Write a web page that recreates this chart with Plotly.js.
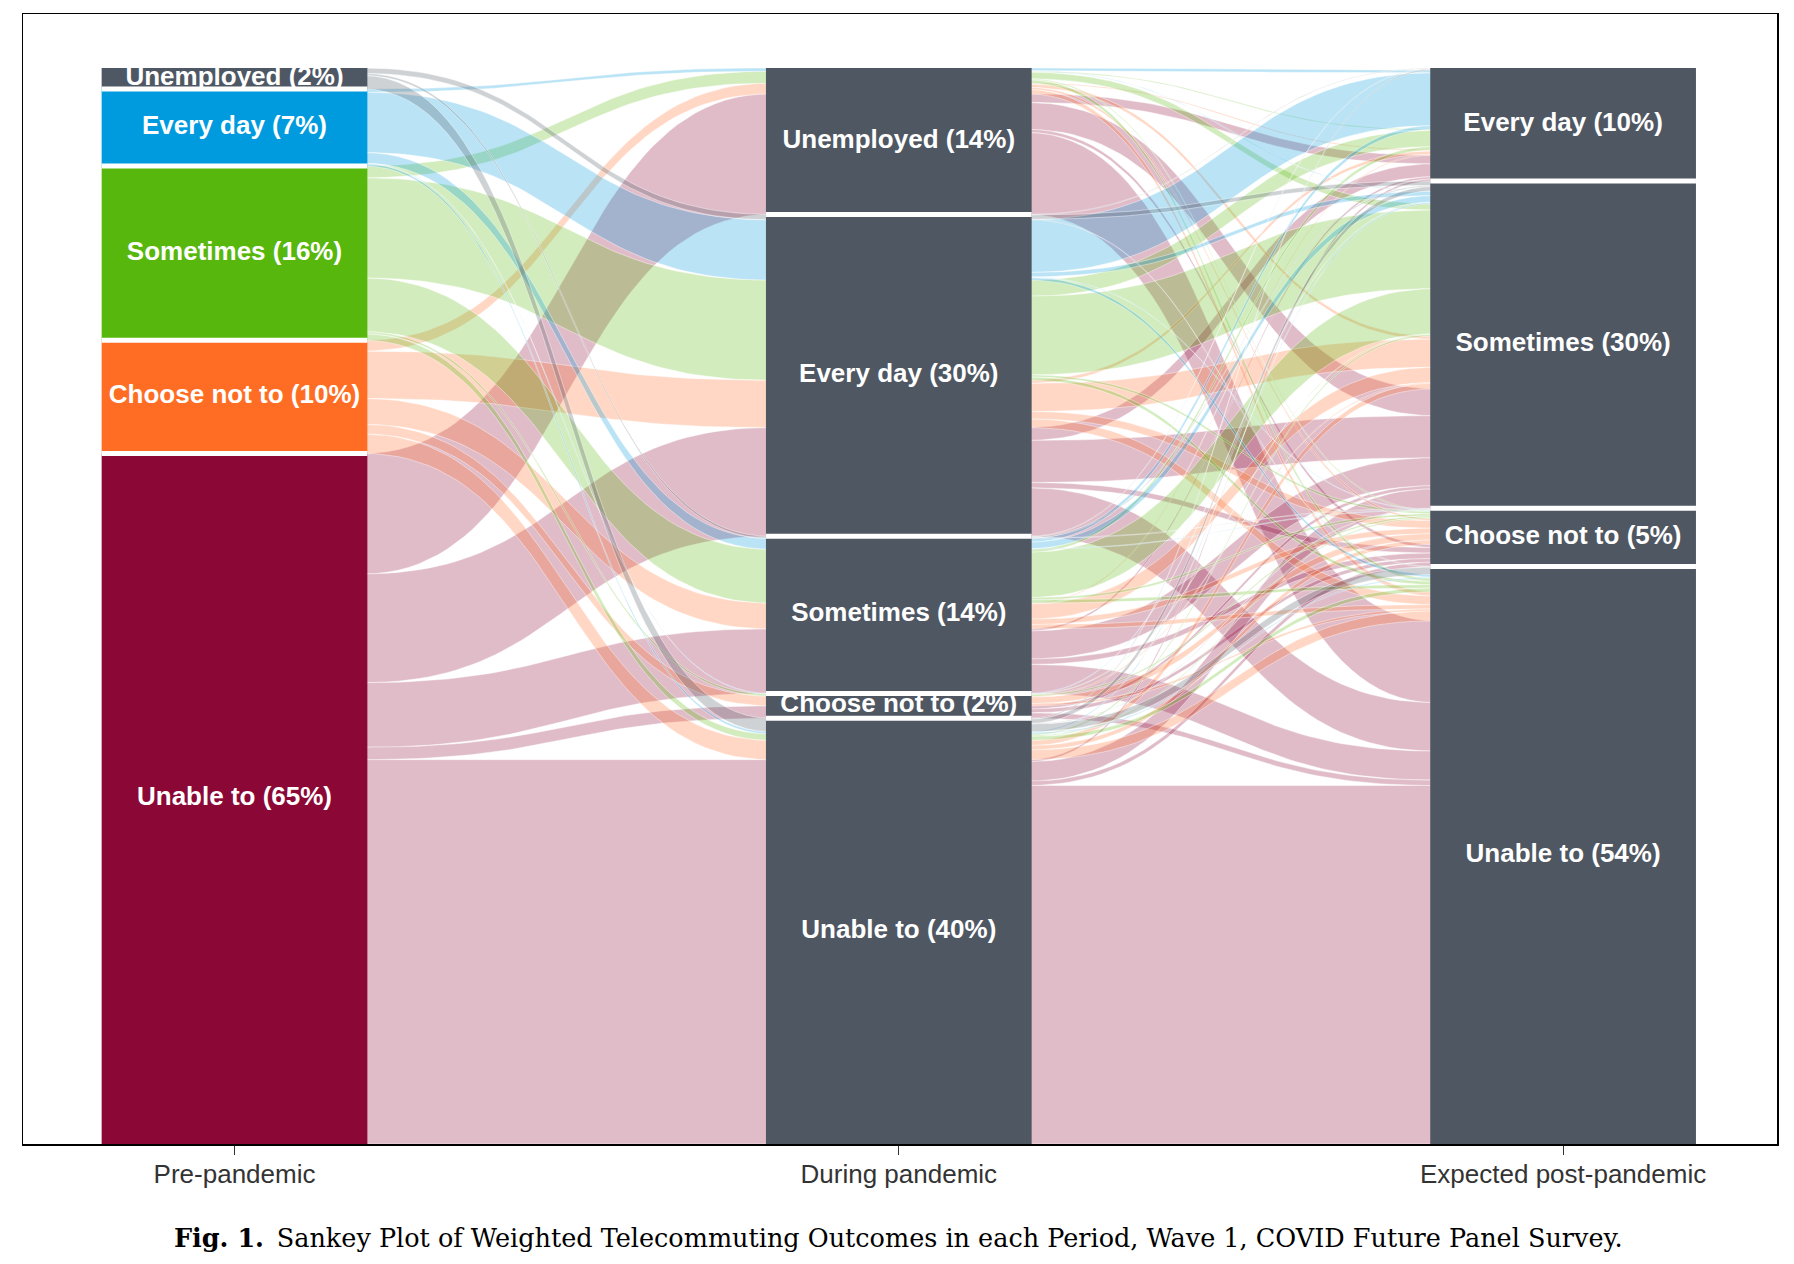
<!DOCTYPE html>
<html>
<head>
<meta charset="utf-8">
<script src="https://cdn.plot.ly/plotly-3.0.1.min.js"></script>
<style>html,body{margin:0;padding:0;background:#fff}#chart{width:1794px;height:1264px}</style>
</head>
<body>
<div id="chart"></div>
<script>
// ---------------- DATA ----------------
const axisNames = ["Pre-pandemic", "During pandemic", "Expected post-pandemic"];
const preCategories = ["Unemployed", "Every day", "Sometimes", "Choose not to", "Unable to"];
const duringCategories = ["Unemployed", "Every day", "Sometimes", "Choose not to", "Unable to"];
const postCategories = ["Every day", "Sometimes", "Choose not to", "Unable to"];
const preLabels = ["Unemployed (2%)", "Every day (7%)", "Sometimes (16%)", "Choose not to (10%)", "Unable to (65%)"];
const duringLabels = ["Unemployed (14%)", "Every day (30%)", "Sometimes (14%)", "Choose not to (2%)", "Unable to (40%)"];
const postLabels = ["Every day (10%)", "Sometimes (30%)", "Choose not to (5%)", "Unable to (54%)"];

// Weighted share of respondents (%), for each pre-pandemic group:
// rows = during-pandemic category, columns = expected post-pandemic category
const fromUnemployed = [
  [0,    0,    0,    0],
  [0.05, 0.4,  0,    0.05],
  [0.05, 0.1,  0.05, 0],
  [0,    0,    0,    0],
  [0.1,  0.4,  0.05, 0.7]
];
const fromEveryDay = [
  [0.25, 0.05, 0,    0],
  [4.9,  0.4,  0.05, 0.25],
  [0.35, 0.6,  0.05, 0],
  [0,    0.05, 0,    0],
  [0,    0.1,  0,    0.1]
];
const fromSometimes = [
  [0.1,  0.6,  0.1,  0.3],
  [1.5,  7.3,  0.2,  0.3],
  [0.3,  4.2,  0.2,  0.3],
  [0,    0.05, 0.15, 0],
  [0,    0.15, 0.1,  0.35]
];
const fromChooseNot = [
  [0.1,  0.3,  0.2,  0.4],
  [0.3,  2.6,  0.7,  0.8],
  [0.1,  1.4,  0.5,  0.4],
  [0,    0.1,  0.6,  0.2],
  [0,    0.5,  0.4,  0.9]
];
const fromUnable = [
  [0.8,  2.5,  0.3,  7.6],
  [1.2,  3.9,  0.5,  4.5],
  [0.2,  2.6,  0.5,  2.7],
  [0,    0.3,  0.35, 0.5],
  [0.2,  1.8,  0.4,  33.3]
];

const preColors = ["#4E5764", "#009BDE", "#58B70C", "#FF6D24", "#8B0836"];
const laterStratumColor = "#4F5763";

// ---------------- BUILD ----------------
const preMatrices = [fromUnemployed, fromEveryDay, fromSometimes, fromChooseNot, fromUnable];
const alluvia = [];
preMatrices.forEach((m, p) => m.forEach((row, d) => row.forEach((w, q) => {
  if (w > 0) alluvia.push({p, d, q, w});
})));
const T = alluvia.reduce((s, a) => s + a.w, 0);

function stack(keyFn, field) {
  const sorted = alluvia.slice().sort((a, b) => {
    const ka = keyFn(a), kb = keyFn(b);
    for (let i = 0; i < ka.length; i++) if (ka[i] !== kb[i]) return ka[i] - kb[i];
    return 0;
  });
  let cum = 0;
  sorted.forEach(a => { a[field] = [T - cum, T - cum - a.w]; cum += a.w; });
}
stack(a => [a.p, a.d, a.q], "y1");
stack(a => [a.d, a.p, a.q], "y2");
stack(a => [a.q, a.p, a.d], "y3");

const HW = 0.2; // half stratum width in axis units
const axisX = [1, 2, 3];

function hexToRgba(hex, a) {
  const n = parseInt(hex.slice(1), 16);
  return `rgba(${(n >> 16) & 255},${(n >> 8) & 255},${n & 255},${a})`;
}

function flowTrace(xa, xb, ta, ba, tb, bb, color) {
  const n = 50, xs = [], ys = [];
  const xm = (xa + xb) / 2;
  const bx = t => (1 - t) ** 3 * xa + 3 * (1 - t) ** 2 * t * xm + 3 * (1 - t) * t * t * xm + t ** 3 * xb;
  const sm = t => t * t * (3 - 2 * t);
  for (let i = 0; i <= n; i++) { const t = i / n; xs.push(bx(t)); ys.push(ta + (tb - ta) * sm(t)); }
  for (let i = n; i >= 0; i--) { const t = i / n; xs.push(bx(t)); ys.push(ba + (bb - ba) * sm(t)); }
  xs.push(xs[0]); ys.push(ys[0]);
  return {
    type: "scatter", mode: "lines", x: xs, y: ys, fill: "toself",
    fillcolor: hexToRgba(color, 0.27),
    line: {color: "rgba(255,255,255,0.7)", width: 0.6},
    hoverinfo: "skip", showlegend: false
  };
}

const traces = [];
const ext = 0.006;

// Segment 1: pre -> during, aggregated by (pre, during)
for (let p = preCategories.length - 1; p >= 0; p--) {
  for (let d = 0; d < duringCategories.length; d++) {
    const grp = alluvia.filter(a => a.p === p && a.d === d);
    if (!grp.length) continue;
    const ta = Math.max(...grp.map(a => a.y1[0])), ba = Math.min(...grp.map(a => a.y1[1]));
    const tb = Math.max(...grp.map(a => a.y2[0])), bb = Math.min(...grp.map(a => a.y2[1]));
    traces.push(flowTrace(axisX[0] + HW - ext, axisX[1] - HW + ext, ta, ba, tb, bb, preColors[p]));
  }
}
// Segment 2: during -> post, one flow per alluvium, coloured by pre group
for (let p = preCategories.length - 1; p >= 0; p--) {
  alluvia.filter(a => a.p === p).forEach(a => {
    traces.push(flowTrace(axisX[1] + HW - ext, axisX[2] - HW + ext, a.y2[0], a.y2[1], a.y3[0], a.y3[1], preColors[p]));
  });
}

// Strata
function strataFor(field, keyName, n) {
  const out = [];
  for (let s = 0; s < n; s++) {
    const grp = alluvia.filter(a => a[keyName] === s);
    if (!grp.length) { out.push(null); continue; }
    out.push([Math.max(...grp.map(a => a[field][0])), Math.min(...grp.map(a => a[field][1]))]);
  }
  return out;
}
const strata = [
  {x: axisX[0], ext: strataFor("y1", "p", preCategories.length), labels: preLabels, colors: preColors},
  {x: axisX[1], ext: strataFor("y2", "d", duringCategories.length), labels: duringLabels, colors: null},
  {x: axisX[2], ext: strataFor("y3", "q", postCategories.length), labels: postLabels, colors: null}
];

const sepX = [], sepY = [];
const labX = [], labY = [], labT = [];
strata.forEach(ax => {
  ax.ext.forEach((e, s) => {
    if (!e) return;
    const col = ax.colors ? ax.colors[s] : laterStratumColor;
    traces.push({
      type: "scatter", mode: "lines",
      x: [ax.x - HW, ax.x + HW, ax.x + HW, ax.x - HW, ax.x - HW],
      y: [e[0], e[0], e[1], e[1], e[0]],
      fill: "toself", fillcolor: col, line: {width: 0, color: col},
      hoverinfo: "skip", showlegend: false
    });
    if (s > 0) { sepX.push(ax.x - HW, ax.x + HW, null); sepY.push(e[0], e[0], null); }
    labX.push(ax.x); labY.push((e[0] + e[1]) / 2); labT.push("<b>" + ax.labels[s] + "</b>");
  });
});
traces.push({
  type: "scatter", mode: "lines", x: sepX, y: sepY,
  line: {color: "#ffffff", width: 5}, hoverinfo: "skip", showlegend: false
});
traces.push({
  type: "scatter", mode: "text", x: labX, y: labY, text: labT,
  textposition: "middle center",
  textfont: {family: "Liberation Sans, Arial, sans-serif", size: 26, color: "#ffffff"},
  hoverinfo: "skip", showlegend: false
});

const layout = {
  width: 1794, height: 1264,
  margin: {l: 23, r: 17, t: 14, b: 120, pad: 0},
  paper_bgcolor: "#ffffff", plot_bgcolor: "#ffffff",
  showlegend: false,
  xaxis: {
    range: [0.6816, 3.322], tickvals: axisX, ticktext: axisNames,
    ticks: "outside", ticklen: 9, tickwidth: 1, tickcolor: "#333333",
    ticklabelstandoff: -3,
    tickfont: {family: "Liberation Sans, Arial, sans-serif", size: 26, color: "#333333"},
    showline: true, mirror: true, linecolor: "#000000", linewidth: 1.5,
    showgrid: false, zeroline: false
  },
  yaxis: {
    range: [0, T * 1130 / 1076], showticklabels: false, ticks: "",
    showline: true, mirror: true, linecolor: "#000000", linewidth: 1.5,
    showgrid: false, zeroline: false
  },
  annotations: [{
    xref: "paper", yref: "paper", x: 0.4989, y: -0.0832, xanchor: "center", yanchor: "middle",
    showarrow: false,
    text: "<b>Fig. 1.</b>\u2002Sankey Plot of Weighted Telecommuting Outcomes in each Period, Wave 1, COVID Future Panel Survey.",
    font: {family: "DejaVu Serif, serif", size: 25.5, color: "#000000"}
  }]
};

Plotly.newPlot("chart", traces, layout, {displayModeBar: false, staticPlot: true});
</script>
</body>
</html>
